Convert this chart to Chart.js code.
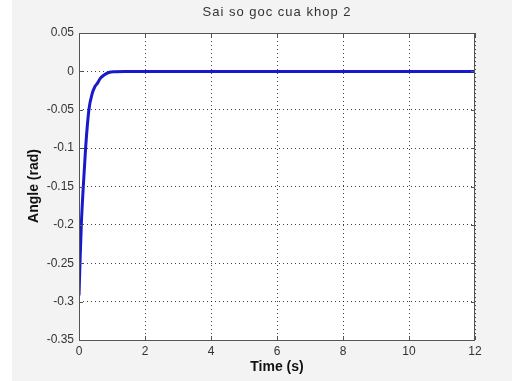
<!DOCTYPE html>
<html>
<head>
<meta charset="utf-8">
<script src="https://cdn.jsdelivr.net/npm/chart.js@4"></script>
<style>
html,body{margin:0;padding:0;background:#fff;}
#wrap{position:absolute;left:0;top:0;width:512px;height:381px;}
</style>
</head>
<body>
<div id="wrap"><canvas id="c" width="512" height="381"></canvas></div>
<script>
const titleText = "Sai so goc cua khop 2";
const xTitle = "Time (s)";
const yTitle = "Angle (rad)";
const timeS = [0, 0.03, 0.07, 0.13, 0.2, 0.3, 0.4, 0.48, 0.55, 0.64, 0.75, 0.9, 1.1, 1.4, 2, 3, 4, 5, 6, 7, 8, 9, 10, 11, 12];
const angleRad = [-0.292, -0.25, -0.2, -0.15, -0.1, -0.05, -0.029, -0.02, -0.016, -0.0095, -0.005, -0.0015, -0.0004, 0, 0, 0, 0, 0, 0, 0, 0, 0, 0, 0, 0];
const xTicks = [0, 2, 4, 6, 8, 10, 12];
const yTicks = [0.05, 0, -0.05, -0.1, -0.15, -0.2, -0.25, -0.3, -0.35];

const pts = timeS.map((t, i) => ({x: t, y: angleRad[i]}));
const FONT = '"Liberation Sans", Arial, sans-serif';

const deco = {
  id: 'deco',
  beforeDraw(chart) {
    const ctx = chart.ctx, a = chart.chartArea;
    ctx.save();
    ctx.fillStyle = '#ffffff';
    ctx.fillRect(0, 0, 512, 381);
    ctx.fillStyle = '#f3f3f3';
    ctx.fillRect(12, 0, 500, 381);
    ctx.fillStyle = '#ffffff';
    ctx.fillRect(a.left, a.top, a.right - a.left, a.bottom - a.top);
    ctx.restore();
  },
  afterDraw(chart) {
    const ctx = chart.ctx, a = chart.chartArea;
    const xs = chart.scales.x, ys = chart.scales.y;
    ctx.save();
    ctx.strokeStyle = '#555';
    ctx.lineWidth = 1;
    ctx.strokeRect(a.left + 0.5, a.top + 0.5, a.right - a.left - 1, a.bottom - a.top);
    ctx.beginPath();
    xTicks.forEach(v => {
      const px = Math.round(xs.getPixelForValue(v)) + 0.5;
      ctx.moveTo(px, a.bottom); ctx.lineTo(px, a.bottom - 4);
      ctx.moveTo(px, a.top); ctx.lineTo(px, a.top + 4);
    });
    yTicks.forEach(v => {
      const py = Math.round(ys.getPixelForValue(v)) + 0.5;
      ctx.moveTo(a.left, py); ctx.lineTo(a.left + 4, py);
      ctx.moveTo(a.right, py); ctx.lineTo(a.right - 4, py);
    });
    ctx.stroke();
    ctx.fillStyle = '#333';
    ctx.font = '13px ' + FONT;
    ctx.textAlign = 'center';
    ctx.textBaseline = 'middle';
    if ('letterSpacing' in ctx) ctx.letterSpacing = '1px';
    ctx.fillText(titleText, (a.left + a.right) / 2, 12);
    if ('letterSpacing' in ctx) ctx.letterSpacing = '0px';
    ctx.fillStyle = '#111';
    ctx.font = 'bold 14px ' + FONT;
    ctx.fillText(xTitle, (a.left + a.right) / 2, 367);
    ctx.translate(34, 186);
    ctx.rotate(-Math.PI / 2);
    ctx.fillText(yTitle, 0, 0);
    ctx.restore();
  }
};

new Chart(document.getElementById('c'), {
  type: 'line',
  data: {
    datasets: [{
      data: pts,
      borderColor: '#1818cc',
      borderWidth: 3,
      pointRadius: 0,
      cubicInterpolationMode: 'monotone',
      fill: false
    }]
  },
  options: {
    responsive: false,
    animation: false,
    devicePixelRatio: 1,
    layout: {padding: {left: 0, right: 37, top: 33, bottom: 0}},
    plugins: {legend: {display: false}, tooltip: {enabled: false}, title: {display: false}},
    scales: {
      x: {
        type: 'linear', min: 0, max: 12,
        afterFit(s) { s.height = 41; },
        afterBuildTicks(s) { s.ticks = xTicks.map(v => ({value: v})); },
        grid: {color: 'rgba(0,0,0,0.75)', drawTicks: false, lineWidth: 1},
        border: {display: false, dash: [1, 3]},
        ticks: {color: '#333', font: {family: FONT, size: 12}, padding: 4, maxRotation: 0},
        title: {display: false}
      },
      y: {
        type: 'linear', min: -0.35, max: 0.05,
        afterFit(s) { s.width = 79; },
        afterBuildTicks(s) { s.ticks = yTicks.map(v => ({value: v})); },
        grid: {color: 'rgba(0,0,0,0.75)', drawTicks: false, lineWidth: 1},
        border: {display: false, dash: [1, 3]},
        ticks: {color: '#333', font: {family: FONT, size: 12}, padding: 5, callback: v => String(Math.round(v * 100) / 100)},
        title: {display: false}
      }
    }
  },
  plugins: [deco]
});
</script>
</body>
</html>
